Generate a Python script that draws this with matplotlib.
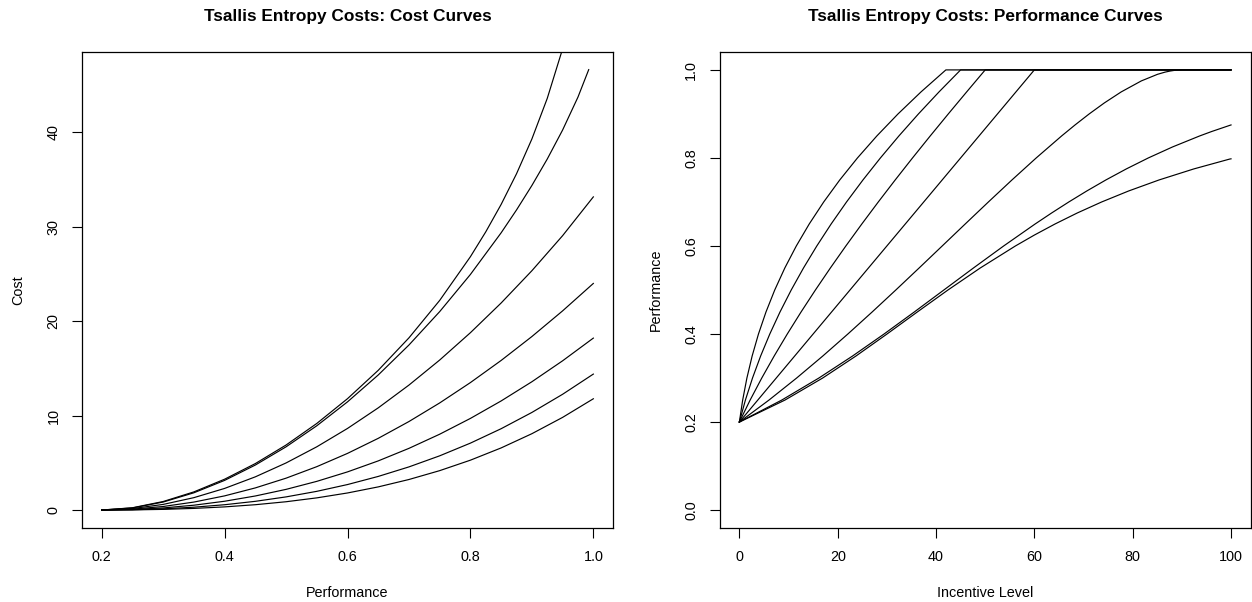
import matplotlib
matplotlib.use("Agg")
import matplotlib.pyplot as plt

plt.rcParams['font.family'] = ['Liberation Sans', 'DejaVu Sans']

# ---------------- data: cost curves (left panel) ----------------
perf_grid = [0.20, 0.25, 0.30, 0.35, 0.40, 0.45, 0.50, 0.55, 0.60, 0.65,
             0.70, 0.75, 0.80, 0.85, 0.90, 0.95, 1.00]
perf_grid_c1 = [0.20, 0.25, 0.30, 0.35, 0.40, 0.45, 0.50, 0.55, 0.60, 0.65,
                0.70, 0.75, 0.80, 0.825, 0.85, 0.875, 0.90, 0.925, 0.95, 0.975, 1.00]
perf_grid_c2 = [0.20, 0.25, 0.30, 0.35, 0.40, 0.45, 0.50, 0.55, 0.60, 0.65,
                0.70, 0.75, 0.80, 0.85, 0.875, 0.90, 0.925, 0.95, 0.975, 0.9925]
cost_c1 = [0, 0.241, 0.902, 1.921, 3.265, 4.921, 6.885, 9.169, 11.794, 14.798,
           18.238, 22.203, 26.833, 29.467, 32.371, 35.613, 39.296, 43.595, 48.851,
           55.945, 74.164]
cost_c2 = [0, 0.221, 0.845, 1.827, 3.140, 4.765, 6.694, 8.924, 11.457, 14.304,
           17.481, 21.016, 24.953, 29.364, 31.782, 34.372, 37.172, 40.248, 43.736, 46.646]
cost_c3 = [0, 0.153, 0.596, 1.312, 2.289, 3.516, 4.987, 6.697, 8.642, 10.822,
           13.236, 15.888, 18.783, 21.930, 25.345, 29.059, 33.167]
cost_c4 = [0, 0.094, 0.375, 0.844, 1.500, 2.344, 3.375, 4.594, 6.000, 7.594,
           9.375, 11.344, 13.500, 15.844, 18.375, 21.094, 24.000]
cost_c5 = [0, 0.054, 0.222, 0.512, 0.932, 1.489, 2.189, 3.038, 4.041, 5.205,
           6.534, 8.032, 9.705, 11.555, 13.588, 15.806, 18.211]
cost_c6 = [0, 0.030, 0.127, 0.301, 0.563, 0.923, 1.392, 1.981, 2.700, 3.560,
           4.570, 5.743, 7.088, 8.615, 10.336, 12.261, 14.400]
cost_c7 = [0, 0.016, 0.070, 0.173, 0.334, 0.565, 0.879, 1.289, 1.808, 2.452,
           3.235, 4.173, 5.282, 6.580, 8.085, 9.813, 11.785]
cost_curves = [(perf_grid_c1, cost_c1), (perf_grid_c2, cost_c2), (perf_grid, cost_c3),
               (perf_grid, cost_c4), (perf_grid, cost_c5), (perf_grid, cost_c6),
               (perf_grid, cost_c7)]

# ---------------- data: performance curves (right panel) ----------------
perf_r1 = perf_grid + [1.0]
inc_r1 = [0, 0.673, 1.532, 2.597, 3.884, 5.411, 7.193, 9.244, 11.579, 14.211,
          17.154, 20.419, 24.019, 27.965, 32.270, 36.944, 42.0, 100]
perf_r2 = perf_grid + [1.0]
inc_r2 = [0, 1.230, 2.672, 4.324, 6.188, 8.262, 10.547, 13.043, 15.750, 18.668,
          21.797, 25.137, 28.688, 32.449, 36.422, 40.605, 45.0, 100]
perf_r3 = perf_grid + [1.0]
inc_r3 = [0, 2.191, 4.555, 7.078, 9.744, 12.544, 15.468, 18.508, 21.657, 24.908,
          28.256, 31.695, 35.218, 38.820, 42.493, 46.227, 50.0, 100]
perf_r4 = [0.2, 0.4, 0.6, 0.8, 1.0, 1.0]
inc_r4 = [0, 15.0, 30.0, 45.0, 60.0, 100]
perf_r5 = [0.20, 0.25, 0.30, 0.35, 0.40, 0.45, 0.50, 0.55, 0.60, 0.65, 0.70, 0.75,
           0.80, 0.85, 0.875, 0.90, 0.925, 0.95, 0.975, 0.99, 0.995, 0.9975, 0.999,
           1.0, 1.0]
inc_r5 = [0, 6.029, 11.645, 16.965, 22.064, 27.001, 31.820, 36.559, 41.253, 45.938,
          50.652, 55.442, 60.374, 65.547, 68.277, 71.151, 74.235, 77.659, 81.753,
          85.049, 86.593, 87.637, 88.532, 90.0, 100]
perf_r6 = [0.20, 0.25, 0.30, 0.35, 0.40, 0.45, 0.50, 0.55, 0.60, 0.65, 0.675, 0.70,
           0.725, 0.75, 0.775, 0.80, 0.825, 0.85, 0.86, 0.875]
inc_r6 = [0, 8.630, 16.170, 23.018, 29.425, 35.569, 41.589, 47.609, 53.753, 60.160,
          63.516, 67.008, 70.671, 74.547, 78.692, 83.178, 88.105, 93.627, 96.048, 100]
perf_r7 = [0.20, 0.25, 0.30, 0.35, 0.40, 0.45, 0.50, 0.55, 0.60, 0.625, 0.65, 0.675,
           0.70, 0.725, 0.75, 0.775, 0.7975, 0.798]
inc_r7 = [0, 9.282, 16.941, 23.712, 30.026, 36.183, 42.426, 48.991, 56.139, 60.032,
          64.208, 68.732, 73.688, 79.182, 85.359, 92.413, 99.740, 100]
perf_curves = [(inc_r1, perf_r1), (inc_r2, perf_r2), (inc_r3, perf_r3), (inc_r4, perf_r4),
               (inc_r5, perf_r5), (inc_r6, perf_r6), (inc_r7, perf_r7)]

# ---------------- ticks / text ----------------
left_xticks = [0.2, 0.4, 0.6, 0.8, 1.0]
left_xticklabels = ['0.2', '0.4', '0.6', '0.8', '1.0']
left_yticks = [0, 10, 20, 30, 40]
left_yticklabels = ['0', '10', '20', '30', '40']
right_xticks = [0, 20, 40, 60, 80, 100]
right_xticklabels = ['0', '20', '40', '60', '80', '100']
right_yticks = [0.0, 0.2, 0.4, 0.6, 0.8, 1.0]
right_yticklabels = ['0.0', '0.2', '0.4', '0.6', '0.8', '1.0']

W, H = 1252, 602
fig = plt.figure(figsize=(W / 100, H / 100), dpi=100)

def px_axes(x0, x1, ytop, ybot):
    return fig.add_axes([x0 / W, 1 - ybot / H, (x1 - x0) / W, (ybot - ytop) / H])

axL = px_axes(82, 613, 52.3, 527.7)
axR = px_axes(719.7, 1250.7, 52.3, 527.7)

LW = 0.85
for xs, ys in cost_curves:
    axL.plot(xs, ys, color='black', lw=LW)
for xs, ys in perf_curves:
    axR.plot(xs, ys, color='black', lw=LW)

axL.set_xlim(0.168, 1.032)
axL.set_ylim(-1.87, 48.48)
axR.set_xlim(-4, 104)
axR.set_ylim(-0.04, 1.04)

FS = 10.4

def style(ax, xt, xtl, yt, ytl, xlabel, ylabel, title, cx):
    ax.set_xticks(xt)
    ax.set_xticklabels(xtl)
    ax.set_yticks(yt)
    ax.set_yticklabels(ytl, rotation=90, va='center')
    ax.tick_params(direction='out', length=7, width=0.8, labelsize=FS, color='black')
    ax.tick_params(axis='x', pad=9.2)
    ax.tick_params(axis='y', pad=8.5)
    for s in ax.spines.values():
        s.set_linewidth(0.9)
        s.set_color('black')
    ax.set_xlabel(xlabel, fontsize=FS)
    ax.xaxis.set_label_coords(0.5, -(593 - 527.7) / 475.4)
    ax.xaxis.label.set_va('center')
    ax.set_ylabel(ylabel, fontsize=FS)
    ax.yaxis.set_label_coords(-63.7 / 531, 0.5)
    ax.yaxis.label.set_va('center')
    fig.text(cx / W, 1 - 20.7 / H, title, fontsize=12.4, fontweight='bold',
             ha='center', va='baseline')

style(axL, left_xticks, left_xticklabels, left_yticks, left_yticklabels,
      'Performance', 'Cost', 'Tsallis Entropy Costs: Cost Curves', (82 + 613) / 2)
style(axR, right_xticks, right_xticklabels, right_yticks, right_yticklabels,
      'Incentive Level', 'Performance', 'Tsallis Entropy Costs: Performance Curves',
      (719.7 + 1250.7) / 2)

fig.savefig('out.png', dpi=100)
